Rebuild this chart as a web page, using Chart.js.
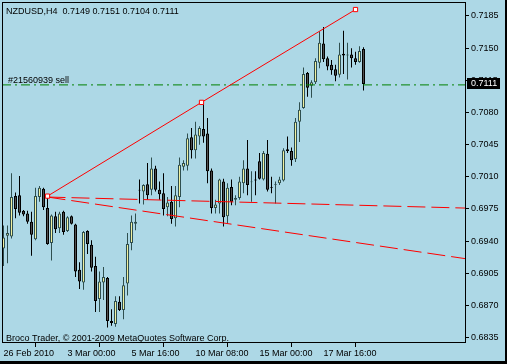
<!DOCTYPE html>
<html><head><meta charset="utf-8">
<script src="https://cdn.jsdelivr.net/npm/chart.js@4.4.1/dist/chart.umd.min.js"></script>
<style>html,body{margin:0;padding:0;background:#add8e6;overflow:hidden}canvas{display:block}</style>
</head><body>
<canvas id="c" width="507" height="364"></canvas>
<script>
const chartTitle = 'NZDUSD,H4  0.7149 0.7151 0.7104 0.7111';
const copyrightText = 'Broco Trader, \u00A9 2001-2009 MetaQuotes Software Corp.';
const orderLabel = '#21560939 sell';
const orderPrice = 0.7110;

const opens = [0.6932,0.6946,0.6945,0.6989,0.6990,0.6973,0.6970,0.6961,0.6942,0.6988,
0.6997,0.6976,0.6938,0.6967,0.6954,0.6972,0.6951,0.6967,0.6958,0.6909,
0.6895,0.6951,0.6936,0.6913,0.6877,0.6895,0.6900,0.6853,0.6850,0.6874,
0.6865,0.6894,0.6938,0.6959,0.6996,0.6994,0.7002,0.6996,0.7019,0.6996,
0.6992,0.6977,0.6983,0.6965,0.6988,0.7021,0.7022,0.7053,0.7039,0.7054,
0.7062,0.7057,0.7017,0.6976,0.6981,0.7005,0.6967,0.6999,0.6985,0.6987,
0.7003,0.7019,0.7004,0.7007,0.7027,0.7007,0.7035,0.6999,0.7001,0.7003,
0.7006,0.7040,0.7038,0.7029,0.7070,0.7085,0.7123,0.7109,0.7113,0.7134,
0.7155,0.7139,0.7132,0.7127,0.7121,0.7144,0.7142,0.7143,0.7139,0.7135,
0.7149];
const highs = [0.6957,0.6957,0.7014,0.6993,0.7011,0.6974,0.6973,0.6972,0.6998,0.7000,
0.6998,0.6989,0.6969,0.6972,0.6972,0.6973,0.6967,0.6968,0.6959,0.6917,
0.6951,0.6952,0.6941,0.6923,0.6907,0.6912,0.6901,0.6866,0.6880,0.6880,
0.6901,0.6949,0.6968,0.6970,0.7007,0.7002,0.7025,0.7031,0.7022,0.7005,
0.7014,0.6988,0.7000,0.7000,0.7031,0.7028,0.7057,0.7063,0.7070,0.7065,
0.7090,0.7074,0.7019,0.6985,0.7008,0.7008,0.7003,0.7007,0.6990,0.7010,
0.7028,0.7050,0.7016,0.7016,0.7036,0.7038,0.7050,0.7010,0.7005,0.7010,
0.7041,0.7054,0.7042,0.7074,0.7091,0.7129,0.7124,0.7115,0.7139,0.7168,
0.7173,0.7141,0.7137,0.7132,0.7156,0.7169,0.7156,0.7150,0.7146,0.7152,
0.7151];
const lows = [0.6913,0.6916,0.6943,0.6965,0.6968,0.6967,0.6959,0.6924,0.6941,0.6983,
0.6974,0.6936,0.6919,0.6949,0.6949,0.6947,0.6950,0.6958,0.6901,0.6888,
0.6887,0.6926,0.6907,0.6863,0.6863,0.6876,0.6846,0.6848,0.6847,0.6864,
0.6855,0.6881,0.6930,0.6952,0.6981,0.6980,0.6985,0.6990,0.6994,0.6985,
0.6968,0.6967,0.6959,0.6956,0.6977,0.7017,0.7017,0.7030,0.7030,0.7045,
0.7047,0.7003,0.6970,0.6970,0.6970,0.6956,0.6959,0.6979,0.6979,0.6985,
0.6992,0.6990,0.6983,0.6990,0.7007,0.7006,0.6994,0.6992,0.6981,0.7001,
0.7005,0.7036,0.7022,0.7026,0.7048,0.7084,0.7097,0.7096,0.7111,0.7128,
0.7135,0.7126,0.7121,0.7114,0.7118,0.7122,0.7116,0.7129,0.7132,0.7134,
0.7104];
const closes = [0.6944,0.6949,0.6988,0.6975,0.6971,0.6969,0.6961,0.6947,0.6989,0.6998,
0.6977,0.6937,0.6968,0.6953,0.6970,0.6950,0.6966,0.6959,0.6907,0.6896,
0.6950,0.6937,0.6911,0.6875,0.6896,0.6901,0.6853,0.6851,0.6875,0.6865,
0.6892,0.6937,0.6961,0.6961,0.6995,0.7001,0.6990,0.7019,0.6996,0.6991,
0.6975,0.6982,0.6964,0.6990,0.7023,0.7025,0.7052,0.7039,0.7056,0.7063,
0.7054,0.7016,0.6976,0.6980,0.7007,0.6966,0.6998,0.6983,0.6987,0.7005,
0.7019,0.7001,0.7005,0.7006,0.7008,0.7036,0.6996,0.6998,0.7002,0.7007,
0.7039,0.7038,0.7028,0.7070,0.7083,0.7122,0.7107,0.7113,0.7136,0.7156,
0.7138,0.7130,0.7126,0.7120,0.7143,0.7142,0.7143,0.7139,0.7135,0.7147,
0.7111];

const yTickValues = [0.6835,0.6870,0.6905,0.6940,0.6975,0.7010,0.7045,0.7080,0.7115,0.7150,0.7185];
const xTickBars = [0,16,32,48,64,80];
const xTickLabels = ['26 Feb 2010','3 Mar 00:00','5 Mar 16:00','10 Mar 08:00','15 Mar 00:00','17 Mar 16:00'];

// trend line (anchor, middle handle, anchor) and two dashed rays
const trendBars = [11, 49.5, 88];
const trendPrices = [0.6989, 0.7091, 0.7192];
const rayBars = [11, 115.375];
const rayAPrices = [0.6988, 0.6976];
const rayBPrices = [0.6988, 0.6921];
const orderBars = [-0.375, 115.375];

const BG = '#add8e6';
const BULL_FILL = '#f0f0a0', BULL_LINE = '#2f4f4f';
const BEAR_FILL = '#505050', BEAR_LINE = '#000000';
const FONT = '"Liberation Sans", Arial, sans-serif';

const idx = opens.map((_, i) => i);
const isBull = idx.map(i => closes[i] >= opens[i]);

const wickData = idx.map(i => ({x: i, y: [lows[i], highs[i]]}));
const bodyData = idx.map(i => ({x: i, y: [Math.min(opens[i], closes[i]), Math.max(opens[i], closes[i])]}));

const mtPlugin = {
  id: 'mt',
  beforeDraw(chart) {
    const ctx = chart.ctx;
    ctx.save();
    ctx.fillStyle = BG;
    ctx.fillRect(0, 0, chart.width, chart.height);
    ctx.restore();
  },
  afterDraw(chart) {
    const {ctx, chartArea: a} = chart;
    const ys = chart.scales.y;
    ctx.save();
    ctx.strokeStyle = '#000';
    ctx.lineWidth = 1;
    ctx.strokeRect(a.left + 0.5, a.top + 0.5, a.right - a.left, a.bottom - a.top - 1);
    ctx.fillStyle = '#000';
    ctx.font = '9px ' + FONT;
    ctx.textAlign = 'left';
    ctx.textBaseline = 'alphabetic';
    ctx.fillText(chartTitle, 6, 14);
    const oy = ys.getPixelForValue(orderPrice);
    ctx.fillText(orderLabel, 8, Math.round(oy) - 2);
    ctx.fillText(copyrightText, 6, 340.5);
    const last = closes[closes.length - 1];
    const py = Math.round(ys.getPixelForValue(last));
    ctx.fillStyle = '#000';
    ctx.fillRect(467, py - 6, 33, 11);
    ctx.fillStyle = '#fff';
    ctx.textBaseline = 'middle';
    ctx.fillText(last.toFixed(4), 471, py);
    ctx.fillStyle = '#000';
    ctx.fillRect(505, 0, 2, 364);
    ctx.fillRect(0, 361, 507, 3);
    ctx.restore();
  }
};

Chart.defaults.font.family = FONT;
Chart.defaults.font.size = 9;
Chart.defaults.color = '#000';

function zeroPad(s) { s.paddingTop = 0; s.paddingBottom = 0; s.paddingLeft = 0; s.paddingRight = 0; }

new Chart(document.getElementById('c'), {
  type: 'bar',
  data: {
    datasets: [
      {
        type: 'line', order: 0,
        data: trendBars.map((b, i) => ({x: b, y: trendPrices[i]})),
        borderColor: '#ff0000', borderWidth: 1,
        pointStyle: 'rect', pointRadius: 3, pointBorderWidth: 1,
        pointBackgroundColor: '#ffffff', pointBorderColor: '#ff0000',
        tension: 0, fill: false
      },
      {
        type: 'line', order: 0,
        data: rayBars.map((b, i) => ({x: b, y: rayAPrices[i]})),
        borderColor: '#ff0000', borderWidth: 1, borderDash: [18, 6],
        pointRadius: 0, tension: 0, fill: false
      },
      {
        type: 'line', order: 0,
        data: rayBars.map((b, i) => ({x: b, y: rayBPrices[i]})),
        borderColor: '#ff0000', borderWidth: 1, borderDash: [18, 6],
        pointRadius: 0, tension: 0, fill: false
      },
      {
        type: 'line', order: 0,
        data: orderBars.map(b => ({x: b, y: orderPrice})),
        borderColor: '#008000', borderWidth: 1, borderDash: [9, 4, 2, 4],
        pointRadius: 0, tension: 0, fill: false
      },
      {
        type: 'bar', order: 1, grouped: false,
        data: bodyData,
        barThickness: 3,
        backgroundColor: idx.map(i => isBull[i] ? BULL_FILL : BEAR_FILL),
        borderColor: idx.map(i => isBull[i] ? BULL_LINE : BEAR_LINE),
        borderWidth: 1, borderSkipped: false, inflateAmount: 0
      },
      {
        type: 'bar', order: 2, grouped: false,
        data: wickData,
        barThickness: 1,
        backgroundColor: idx.map(i => isBull[i] ? BULL_LINE : BEAR_LINE),
        borderWidth: 0, borderSkipped: false, inflateAmount: 0
      }
    ]
  },
  options: {
    responsive: false,
    animation: false,
    devicePixelRatio: 1,
    layout: {autoPadding: false, padding: {left: 2, top: 2, right: 2, bottom: 2}},
    plugins: {legend: {display: false}, tooltip: {enabled: false}},
    scales: {
      x: {
        type: 'linear', offset: false,
        min: -0.375, max: 115.375,
        afterBuildTicks: s => { s.ticks = xTickBars.map(v => ({value: v})); },
        afterFit: s => { s.height = 19; zeroPad(s); },
        ticks: {
          autoSkip: false, maxRotation: 0, minRotation: 0, align: 'start', padding: 1,
          color: '#000', font: {size: 9},
          callback: (v, i) => xTickLabels[i]
        },
        grid: {drawOnChartArea: false, drawTicks: true, tickLength: 4, color: '#000'},
        border: {display: false}
      },
      y: {
        type: 'linear', position: 'right',
        min: 0.68292, max: 0.72002,
        afterBuildTicks: s => { s.ticks = yTickValues.map(v => ({value: v})); },
        afterFit: s => { s.width = 40; zeroPad(s); },
        ticks: {
          padding: 2, color: '#000', font: {size: 9},
          callback: v => Number(v).toFixed(4)
        },
        grid: {drawOnChartArea: false, drawTicks: true, tickLength: 4, color: '#000'},
        border: {display: false}
      }
    }
  },
  plugins: [mtPlugin]
});
</script>
</body></html>
